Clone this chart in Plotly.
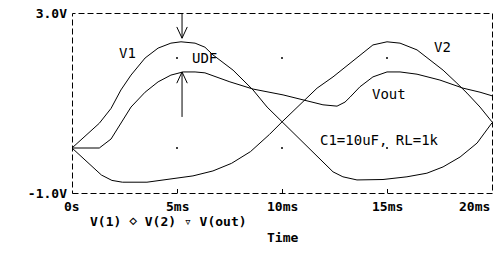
import plotly.graph_objects as go
import numpy as np

# ---- data (time in ms, voltage in V) ----
t_v1 = [0, 1.3, 1.86, 2.33, 2.81, 3.48, 4.1, 4.71, 5.19, 5.86, 6.33, 6.71, 7.67, 8.62, 9.29,
        10.0, 10.86, 11.67, 12.43, 12.9, 13.57, 14.81, 15.95, 16.9, 17.67, 18.48, 19.29, 20]
v1 = [0, 0.55, 0.88, 1.29, 1.62, 2.0, 2.22, 2.33, 2.36, 2.33, 2.24, 2.07, 1.73, 1.29, 0.91,
      0.58, 0.18, -0.2, -0.53, -0.64, -0.71, -0.70, -0.64, -0.56, -0.42, -0.2, 0.11, 0.56]

t_v2 = [0, 1.15, 1.4, 1.9, 2.4, 3.57, 4.67, 5.76, 6.71, 7.6, 8.5, 9.4, 10.0, 10.86, 11.67,
        12.43, 13.24, 13.57, 14.33, 15.0, 15.62, 16.43, 17.05, 17.67, 18.33, 18.81, 19.43, 20]
v2 = [0, -0.5, -0.6, -0.72, -0.76, -0.76, -0.69, -0.62, -0.51, -0.34, -0.08, 0.3, 0.58, 0.96,
      1.33, 1.58, 1.89, 2.02, 2.29, 2.36, 2.33, 2.18, 1.96, 1.73, 1.44, 1.22, 0.91, 0.58]

t_out = [0, 1.3, 1.86, 2.33, 2.81, 3.48, 4.1, 4.71, 5.29, 5.86, 6.33, 7.52, 8.62, 10.05, 11.19,
         11.95, 12.62, 13.0, 13.24, 13.71, 14.33, 15.0, 15.62, 16.43, 17.52, 18.62, 19.43, 20]
vout = [0, 0, 0.2, 0.56, 0.91, 1.24, 1.47, 1.62, 1.69, 1.69, 1.67, 1.47, 1.31, 1.18, 1.04,
        0.96, 0.93, 1.02, 1.13, 1.36, 1.58, 1.69, 1.69, 1.64, 1.51, 1.33, 1.24, 1.16]

x_ticks = [0, 5, 10, 15, 20]
x_tick_labels = ["0s", "5ms", "10ms", "15ms", "20ms"]
y_ticks = [-1, 3]
y_tick_labels = ["-1.0V", "3.0V"]
grid_x = [5, 10, 15]
grid_y = [0, 2]

MONO = "DejaVu Sans Mono"
line_style = dict(color="black", width=1)
PW, PH = 420.0, 180.0  # plot area size in px

fig = go.Figure()
for tx, vy in [(t_v1, v1), (t_v2, v2), (t_out, vout)]:
    fig.add_trace(go.Scatter(x=tx, y=vy, mode="lines", line=line_style,
                             hoverinfo="skip", showlegend=False))

gx, gy = np.meshgrid(grid_x, grid_y)
fig.add_trace(go.Scatter(x=gx.ravel(), y=gy.ravel(), mode="markers",
                         marker=dict(color="black", size=2), hoverinfo="skip",
                         showlegend=False))

# dashed frame (offset by half a pixel for crisp 1px lines)
shapes = [dict(type="rect", xref="paper", yref="paper",
               x0=0.5 / PW, y0=-0.5 / PH, x1=1 + 0.5 / PW, y1=1 - 0.5 / PH,
               line=dict(color="black", width=1, dash="6px,3px"))]

# cursor arrows: V1 peak (down arrow from top) and Vout peak (up arrow)
i1 = int(np.argmax(v1))
i2 = int(np.argmax(vout))
xa = t_v1[i1] + 0.05
tip1 = v1[i1] + 0.08
tip2 = vout[i2]
dx, dy = 0.25, 0.25
arrow_paths = [
    f"M{xa},3 L{xa},{tip1}",
    f"M{xa-dx},{tip1+dy} L{xa},{tip1} L{xa+dx},{tip1+dy}",
    f"M{xa},{tip2-1.0} L{xa},{tip2}",
    f"M{xa-dx},{tip2-dy} L{xa},{tip2} L{xa+dx},{tip2-dy}",
]
for p in arrow_paths:
    shapes.append(dict(type="path", xref="x", yref="y", path=p,
                       line=dict(color="black", width=1)))

annotations = []
for xv, lab in zip(x_ticks, x_tick_labels):
    anchor = "right" if xv == x_ticks[-1] else "center"
    annotations.append(dict(x=xv, y=0, xref="x", yref="paper", text=lab, showarrow=False,
                            xanchor=anchor, yanchor="top", yshift=-4,
                            font=dict(family=MONO, size=13, color="black", weight="bold")))

annotations.append(dict(x=0.038, y=-0.16, xref="paper", yref="paper",
                        text="V(1) \u22c4 V(2) \u25bf V(out)", showarrow=False,
                        xanchor="left", yanchor="middle",
                        font=dict(family=MONO, size=13, color="black", weight="bold")))
annotations.append(dict(x=0.502, y=-0.245, xref="paper", yref="paper", text="Time",
                        showarrow=False, xanchor="center", yanchor="middle",
                        font=dict(family=MONO, size=13, color="black", weight="bold")))

labels = [("V1", 2.62, 2.11, "center"), ("UDF", 6.29, 2.0, "center"),
          ("V2", 17.62, 2.24, "center"), ("Vout", 15.1, 1.2, "center"),
          ("C1=10uF, RL=1k", 11.71, 0.18, "left")]
for txt, xv, yv, anc in labels:
    annotations.append(dict(x=xv, y=yv, xref="x", yref="y", text=txt, showarrow=False,
                            xanchor=anc, yanchor="middle",
                            font=dict(family=MONO, size=14, color="black")))

fig.update_layout(
    width=498, height=260,
    margin=dict(l=72, r=6, t=13, b=67),
    paper_bgcolor="white", plot_bgcolor="white",
    shapes=shapes, annotations=annotations,
    xaxis=dict(range=[0, 20], showgrid=False, zeroline=False, showline=False,
               tickvals=x_ticks, ticks="inside", ticklen=4, tickcolor="black",
               showticklabels=False, fixedrange=True),
    yaxis=dict(range=[-1, 3], showgrid=False, zeroline=False, showline=False,
               tickvals=y_ticks, ticktext=y_tick_labels, ticks="inside", ticklen=4,
               tickcolor="black", ticklabelstandoff=4,
               tickfont=dict(family=MONO, size=13, color="black", weight="bold"),
               fixedrange=True),
)

fig.write_html("out.html", config={"displayModeBar": False})
